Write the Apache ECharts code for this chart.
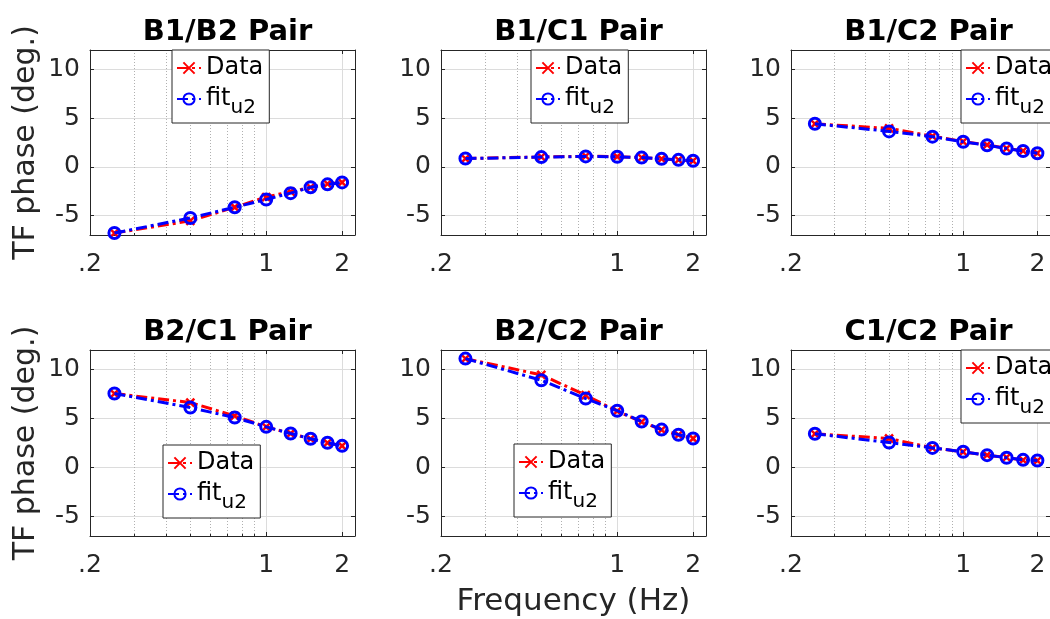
<!DOCTYPE html>
<html>
<head>
<meta charset="utf-8">
<script src="https://cdn.jsdelivr.net/npm/echarts@6/dist/echarts.min.js"></script>
<style>
  html, body { margin: 0; padding: 0; background: #fff; }
  #chart { width: 1050px; height: 619px; }
</style>
</head>
<body>
<div id="chart"></div>
<script>
// Excitation frequencies (Hz), shared by all sensor pairs
const freq = [0.25, 0.5, 0.75, 1, 1.25, 1.5, 1.75, 2];

// Panel titles
const pairTitles = ['B1/B2 Pair', 'B1/C1 Pair', 'B1/C2 Pair', 'B2/C1 Pair', 'B2/C2 Pair', 'C1/C2 Pair'];

// Measured TF phase (deg.) per pair
const dataB1B2 = [-6.8, -5.55, -4.15, -3.1, -2.55, -2.1, -1.75, -1.6];
const dataB1C1 = [0.85, 1.02, 1.09, 1.05, 0.95, 0.82, 0.71, 0.61];
const dataB1C2 = [4.42, 3.95, 3.15, 2.6, 2.25, 1.9, 1.63, 1.4];
const dataB2C1 = [7.55, 6.63, 5.27, 4.15, 3.47, 2.93, 2.52, 2.21];
const dataB2C2 = [11.12, 9.46, 7.38, 5.75, 4.66, 3.84, 3.33, 2.96];
const dataC1C2 = [3.44, 2.96, 2.0, 1.6, 1.26, 1.02, 0.75, 0.71];

// Fitted model phase (deg.) per pair
const fitB1B2 = [-6.8, -5.25, -4.15, -3.35, -2.7, -2.1, -1.8, -1.6];
const fitB1C1 = [0.85, 1.0, 1.07, 1.03, 0.95, 0.82, 0.72, 0.62];
const fitB1C2 = [4.42, 3.64, 3.1, 2.57, 2.22, 1.88, 1.62, 1.4];
const fitB2C1 = [7.55, 6.12, 5.1, 4.15, 3.47, 2.93, 2.52, 2.21];
const fitB2C2 = [11.12, 8.91, 7.04, 5.8, 4.7, 3.87, 3.35, 2.96];
const fitC1C2 = [3.44, 2.55, 2.0, 1.6, 1.26, 1.0, 0.78, 0.71];

// Axis ticks
const xMajorTicks = [0.2, 1, 2];
const xMinorTicks = [0.3, 0.4, 0.5, 0.6, 0.7, 0.8, 0.9];
const yTicks = [-5, 0, 5, 10];
const xRange = [0.2, 2.25];
const yRange = [-7, 12];

const dataSets = [dataB1B2, dataB1C1, dataB1C2, dataB2C1, dataB2C2, dataC1C2];
const fitSets = [fitB1B2, fitB1C1, fitB1C2, fitB2C1, fitB2C2, fitC1C2];

const FONT = 'DejaVu Sans';
const INK = '#262626';
const lg = Math.log10;

// Panel placement
const colLeft = [90, 441, 791];
const rowTop = [50, 350];
const boxW = 265;
const boxH = [185, 186];
// legend corner per panel (north / north / northeast / south / south / northeast)
const legendPos = [[172, 50], [531, 50], [961, 50], [163, 445], [514, 444], [961, 350]];

const grids = [], xAxes = [], yAxes = [], series = [], titles = [], legends = [];

function fmtFreq(v) {
  const f = Math.round(Math.pow(10, v) * 10) / 10;
  return f < 1 ? '.' + Math.round(f * 10) : String(f);
}

// box edges are drawn as axis lines pinned to the plot border
const boxLine = { show: true, onZero: false, lineStyle: { color: INK, width: 1 } };

for (let p = 0; p < 6; p++) {
  const r = Math.floor(p / 3), c = p % 3;
  const left = colLeft[c], top = rowTop[r], h = boxH[r];
  grids.push({
    left: left, top: top, width: boxW, height: h,
    show: true, borderWidth: 0, backgroundColor: '#fff'
  });
  titles.push({
    text: pairTitles[p], left: left + boxW / 2, top: top - 37, textAlign: 'center',
    textStyle: { fontFamily: FONT, fontWeight: 'bold', fontSize: 29, color: '#000' }
  });

  const xBase = {
    gridIndex: p, type: 'value', min: lg(xRange[0]), max: lg(xRange[1])
  };
  // minor grid (dotted), drawn first so the box lines sit above it
  xAxes.push(Object.assign({}, xBase, {
    position: 'bottom', axisLine: { show: false, onZero: false },
    axisTick: { show: true, inside: true, length: 2, customValues: xMinorTicks.map(lg), lineStyle: { color: INK } },
    axisLabel: { show: false },
    splitLine: { show: true, lineStyle: { color: '#b0b0b0', width: 1, type: [1, 2] } }
  }));
  // major (labelled) axis
  xAxes.push(Object.assign({}, xBase, {
    position: 'bottom', axisLine: boxLine,
    axisTick: { show: true, inside: true, length: 4, customValues: xMajorTicks.map(lg), lineStyle: { color: INK } },
    axisLabel: {
      show: true, customValues: xMajorTicks.map(lg), formatter: fmtFreq, margin: 17,
      fontFamily: FONT, fontSize: 25, color: INK
    },
    splitLine: { show: true, lineStyle: { color: '#dcdcdc', width: 1 } },
    name: p === 4 ? 'Frequency (Hz)' : '', nameLocation: 'middle', nameGap: 50,
    nameTextStyle: { fontFamily: FONT, fontSize: 31, color: INK }
  }));
  // top edge of the box
  xAxes.push(Object.assign({}, xBase, {
    position: 'top', axisLine: boxLine,
    axisTick: { show: true, inside: true, length: 4, customValues: xMajorTicks.map(lg), lineStyle: { color: INK } },
    axisLabel: { show: false }, splitLine: { show: false }
  }));

  const yBase = { gridIndex: p, type: 'value', min: yRange[0], max: yRange[1] };
  yAxes.push(Object.assign({}, yBase, {
    position: 'left', axisLine: boxLine,
    axisTick: { show: true, inside: true, length: 4, customValues: yTicks, lineStyle: { color: INK } },
    axisLabel: { show: true, customValues: yTicks, margin: 10, fontFamily: FONT, fontSize: 25, color: INK },
    splitLine: { show: true, lineStyle: { color: '#dcdcdc', width: 1 } },
    name: c === 0 ? 'TF phase (deg.)' : '', nameLocation: 'middle', nameRotate: 90, nameGap: 49,
    nameTextStyle: { fontFamily: FONT, fontSize: 30, color: INK }
  }));
  yAxes.push(Object.assign({}, yBase, {
    position: 'right', axisLine: boxLine,
    axisTick: { show: true, inside: true, length: 4, customValues: yTicks, lineStyle: { color: INK } },
    axisLabel: { show: false }, splitLine: { show: false }
  }));

  const dash = [11, 4, 3, 4];
  series.push({
    name: 'Data', type: 'line', xAxisIndex: p * 3 + 1, yAxisIndex: p * 2,
    data: freq.map((f, i) => [lg(f), dataSets[p][i]]),
    symbol: 'path://M0,0L10,10M10,0L0,10', symbolSize: 8,
    itemStyle: { color: '#ff0000', borderColor: '#ff0000', borderWidth: 2.5 },
    lineStyle: { color: '#ff0000', width: 3, type: dash },
    z: 3
  });
  series.push({
    name: 'fit', type: 'line', xAxisIndex: p * 3 + 1, yAxisIndex: p * 2,
    data: freq.map((f, i) => [lg(f), fitSets[p][i]]),
    symbol: 'circle', symbolSize: 11,
    itemStyle: { color: 'rgba(0,0,0,0)', borderColor: '#0000ff', borderWidth: 3 },
    lineStyle: { color: '#0000ff', width: 3, type: dash },
    z: 4
  });

  legends.push({
    left: legendPos[p][0], top: legendPos[p][1], orient: 'vertical',
    data: ['Data', 'fit'], selectedMode: false,
    backgroundColor: '#fff', borderColor: INK, borderWidth: 1,
    padding: [6, 6, 5, 4], itemGap: 7, itemWidth: 24, itemHeight: 14,
    formatter: name => name === 'fit' ? 'fit{sub|u2}' : name,
    textStyle: {
      fontFamily: FONT, fontSize: 24, color: '#000',
      rich: { sub: { fontFamily: FONT, fontSize: 20, color: '#000', padding: [18, 0, 0, 0] } }
    },
    z: 10
  });
}

const chart = echarts.init(document.getElementById('chart'), null, { renderer: 'canvas' });
chart.setOption({
  animation: false,
  backgroundColor: '#fff',
  title: titles,
  legend: legends,
  grid: grids,
  xAxis: xAxes,
  yAxis: yAxes,
  series: series
});
</script>
</body>
</html>
